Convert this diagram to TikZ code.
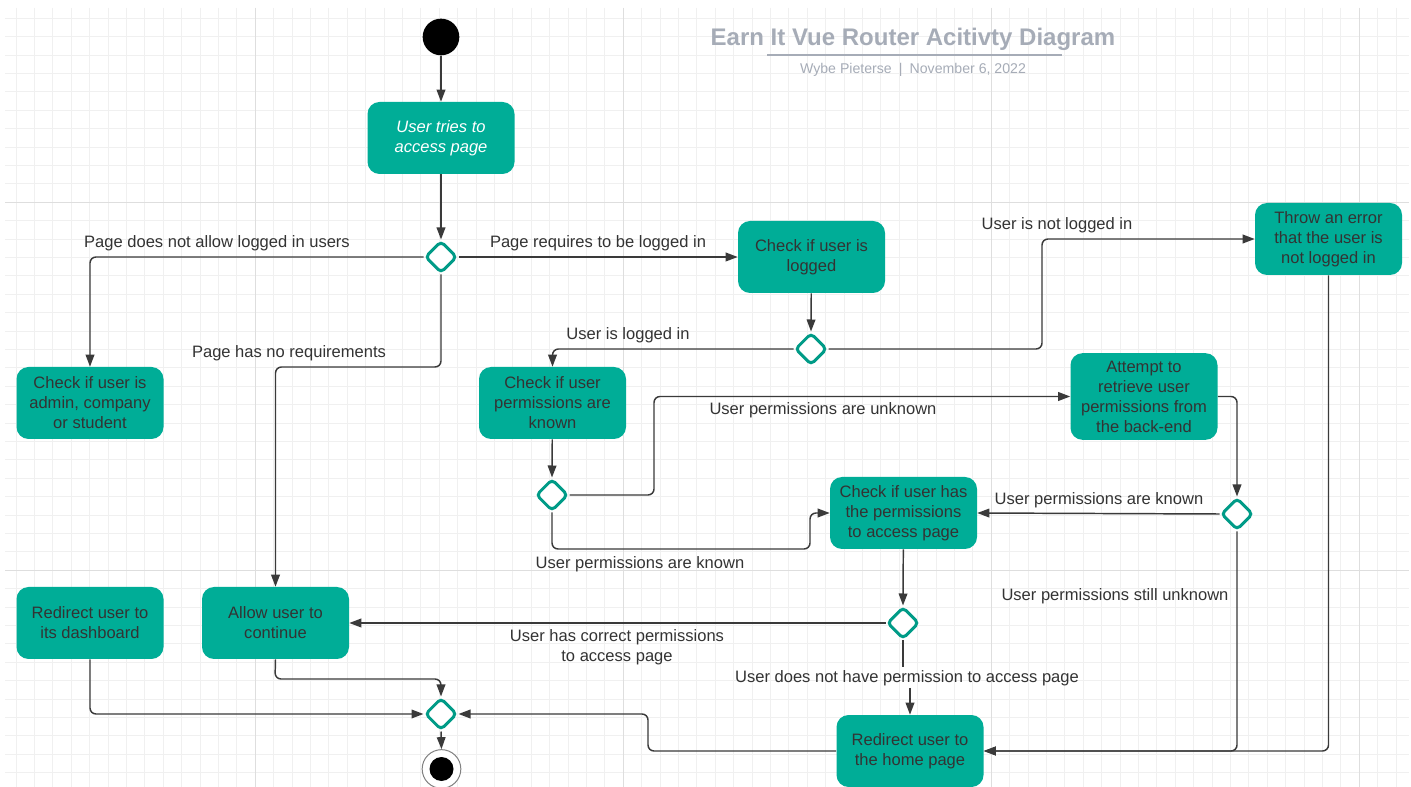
\documentclass[tikz,border=0pt]{standalone}
\usepackage{fontspec}
\setmainfont{Liberation Sans}
\usetikzlibrary{shapes.geometric,arrows.meta}
\definecolor{teal1}{RGB}{0,173,151}
\definecolor{teal2}{RGB}{0,155,135}
\definecolor{txt}{RGB}{51,51,51}
\definecolor{lin}{RGB}{58,58,58}
\definecolor{ttl}{RGB}{166,172,183}
\definecolor{gminor}{RGB}{240,240,240}
\definecolor{gmajor}{RGB}{222,222,222}
\tikzset{
  box/.style={rectangle, rounded corners=9pt, fill=teal1, draw=none, minimum width=110.25pt, minimum height=54pt, inner sep=0pt, align=center, text=txt, font=\fontsize{12.4}{15}\selectfont},
  dia/.style={diamond, draw=teal2, fill=white, line width=2.25pt, rounded corners=3pt, minimum width=24pt, minimum height=24pt, inner sep=0pt},
  conn/.style={draw=lin, line width=1.1pt, rounded corners=4.5pt, -{Triangle[length=9pt,width=6.5pt]}},
  plain/.style={draw=lin, line width=1.1pt, rounded corners=4.5pt},
  lbl/.style={text=txt, font=\fontsize{12.4}{15}\selectfont, align=center, inner sep=0pt},
}
\begin{document}
\begin{tikzpicture}[x=0.75pt,y=-0.75pt]
\useasboundingbox (0,0) rectangle (1411,787);
\fill[white] (0,0) rectangle (1411,787);
% grid
\foreach \i in {0,...,75} {\draw[gminor, line width=0.75pt] ({16+18.4*\i},8) -- ({16+18.4*\i},787);}
\foreach \k in {0,...,41} {\draw[gminor, line width=0.75pt] (5,{18.3+18.4*\k}) -- (1409,{18.3+18.4*\k});}
\foreach \i in {13,33,53,73} {\draw[gmajor, line width=0.9pt] ({16+18.4*\i},8) -- ({16+18.4*\i},787);}
\foreach \k in {10,30} {\draw[gmajor, line width=0.9pt] (5,{18.3+18.4*\k}) -- (1409,{18.3+18.4*\k});}

% title
\node[text=ttl, font=\bfseries\fontsize{18}{20}\selectfont, inner sep=0pt] (title) at (913,39) {Earn It Vue Router Acitivty Diagram};
\draw[ttl, line width=1.5pt] (767,55) -- (1062,55);
\node[text=ttl, font=\fontsize{10.6}{12}\selectfont, inner sep=0pt] (sub) at (913,70) {Wybe Pieterse\enspace|\enspace November 6, 2022};

% nodes
\node[circle, fill=black, minimum size=27.5pt, inner sep=0pt] (start) at (441,37) {};
\node[box, text=white, font=\itshape\fontsize{12.4}{15}\selectfont] (a1) at (441,138) {User tries to\\access page};
\node[dia] (d1) at (441,257) {};
\node[box] (logged) at (811.5,257) {Check if user is\\logged};
\node[box] (error) at (1328.5,239) {Throw an error\\that the user is\\not logged in};
\node[dia] (d2) at (811,349) {};
\node[box] (admin) at (90,403) {Check if user is\\admin, company\\or student};
\node[box] (perm) at (552.5,403) {Check if user\\permissions are\\known};
\node[box, minimum height=65pt] (attempt) at (1144,396.5) {Attempt to\\retrieve user\\permissions from\\the back-end};
\node[dia] (d3) at (552,495) {};
\node[box] (hasperm) at (903.5,513) {Check if user has\\the permissions\\to access page};
\node[dia] (d4) at (1237,514) {};
\node[box] (dash) at (90,623) {Redirect user to\\its dashboard};
\node[box] (allow) at (275.5,623) {Allow user to\\continue};
\node[dia] (d5) at (903,623) {};
\node[box] (home) at (910,751) {Redirect user to\\the home page};
\node[dia] (d6) at (441,714) {};
\node[circle, draw=gray, line width=0.75pt, fill=white, minimum size=29pt, inner sep=0pt] (end) at (441.5,769) {};
\node[circle, fill=black, minimum size=18pt, inner sep=0pt] (endin) at (441.5,769) {};

% connectors
\draw[conn] (start) -- (a1);
\draw[conn] (a1) -- (d1.north);
\draw[conn] (d1.west) -| (admin.north);
\draw[conn] (d1.east) -- (logged.west);
\draw[conn] (d1.south) -- (441,367) -| (allow.north);
\draw[conn] (logged) -- (d2.north);
\draw[conn] (d2.west) -| (perm.north);
\draw[conn] (d2.east) -- (1042,349) |- (error.west);
\draw[conn] (perm) -- (d3.north);
\draw[conn] (d3.east) -- (654,495) |- (attempt.west);
\draw[conn] (d3.south) -- (552,549) -- (810,549) -- (810,513) -- (hasperm.west);
\draw[conn] (attempt.east) -| (d4.north);
\draw[conn] (d4.west) -- (hasperm.east);
\draw[conn] (d4.south) |- (home.east);
\draw[conn] (error.south) |- (home.east);
\draw[conn] (hasperm) -- (d5.north);
\draw[conn] (d5.west) -- (allow.east);
\draw[plain] (d5.south) -- (903,667);
\coordinate (hb) at (910,688);
\draw[conn] (hb) -- (home.north);
\draw[conn] (dash.south) |- (d6.west);
\draw[conn] (allow.south) -- (275,679) -| (d6.north);
\draw[conn] (home.west) -- (648,751) |- (d6.east);
\draw[conn] (d6.south) -- (end.north);

% labels
\node[lbl] (l1) at (217,243) {Page does not allow logged in users};
\node[lbl] (l2) at (598,243) {Page requires to be logged in};
\node[lbl] (l3) at (289,353) {Page has no requirements};
\node[lbl] (l4) at (628,335) {User is logged in};
\node[lbl] (l5) at (1057,225) {User is not logged in};
\node[lbl] (l6) at (823,410) {User permissions are unknown};
\node[lbl] (l7) at (640,564) {User permissions are known};
\node[lbl] (l8) at (1099,500) {User permissions are known};
\node[lbl] (l9) at (1115,596) {User permissions still unknown};
\node[lbl] (l10) at (617,647) {User has correct permissions\\to access page};
\node[lbl] (l11) at (907,678) {User does not have permission to access page};
\end{tikzpicture}
\end{document}
